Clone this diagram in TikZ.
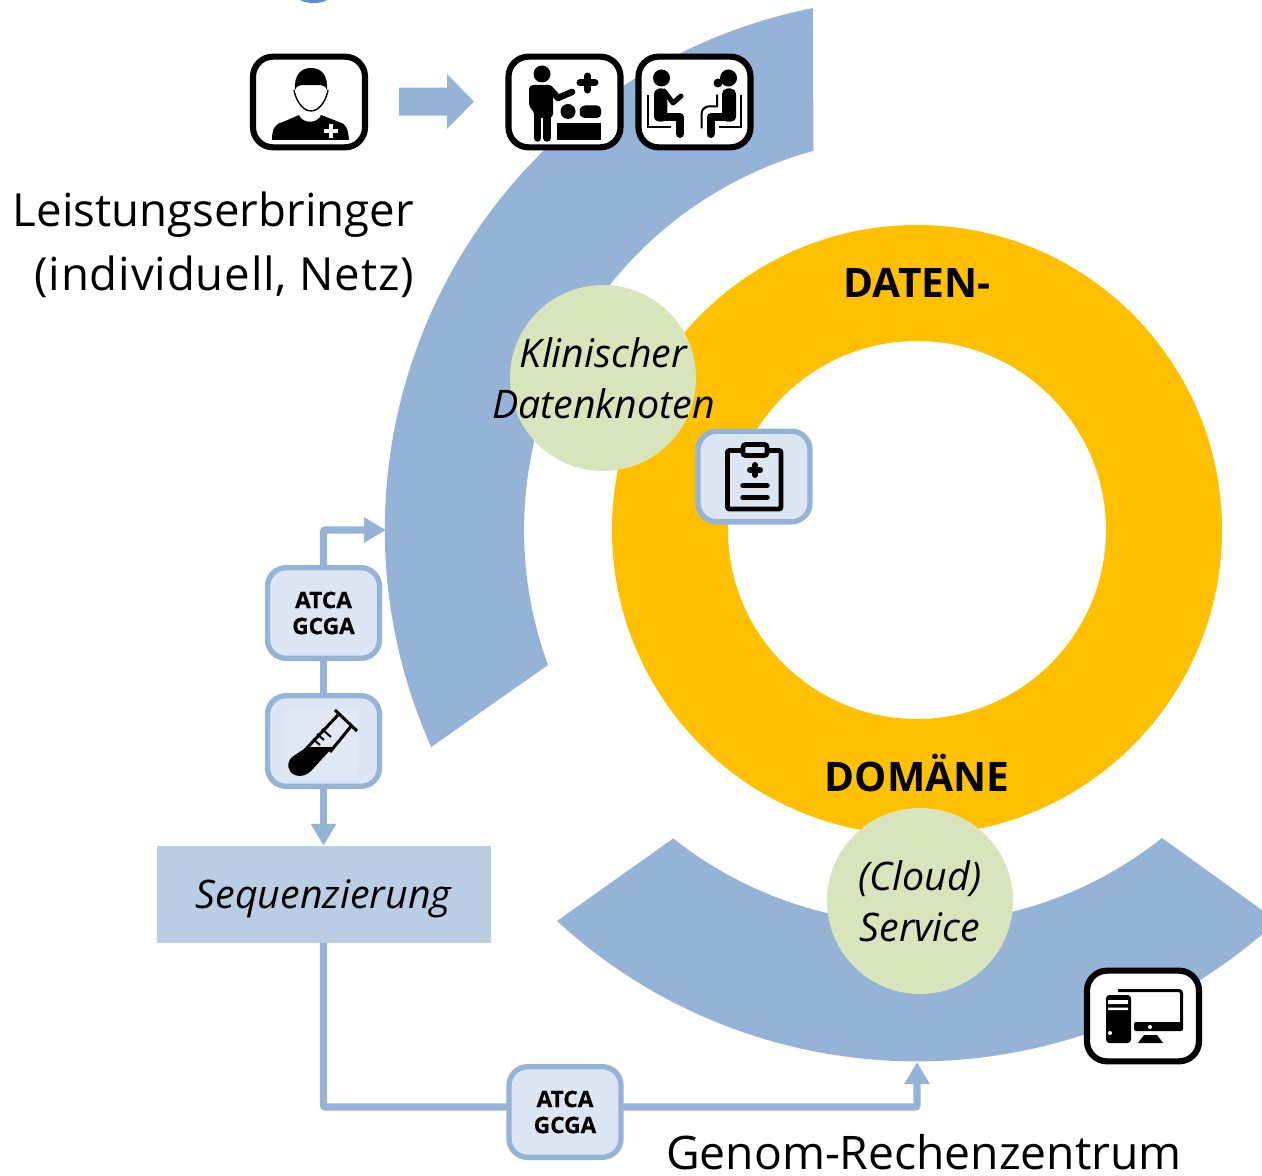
\documentclass[tikz,border=0pt]{standalone}
\usepackage{fontspec}
\setmainfont{Open Sans}
\usetikzlibrary{arrows.meta}
\definecolor{bluearc}{HTML}{95B3D7}
\definecolor{paleblue}{HTML}{DCE6F2}
\definecolor{seqblue}{HTML}{B9CDE5}
\definecolor{gold}{HTML}{FFC000}
\definecolor{palegreen}{HTML}{D7E4BC}
\definecolor{fragblue}{HTML}{5B8DC9}
\tikzset{
  iconbox/.style={draw=black,fill=white,line width=4.6pt,rounded corners=15pt,minimum width=84pt,minimum height=68pt,inner sep=0pt,outer sep=0pt},
  palebox/.style={draw=bluearc,fill=paleblue,line width=4pt,rounded corners=14pt,minimum width=84pt,minimum height=68pt,inner sep=0pt,outer sep=0pt,align=center,font=\fontsize{17}{19.5}\selectfont\bfseries\addfontfeature{FakeBold=0.6}},
  greencirc/.style={circle,fill=palegreen,minimum size=139.5pt,inner sep=0pt},
  greentext/.style={inner sep=0pt,align=center,font=\fontsize{29.5}{38.2}\selectfont\itshape},
  flow/.style={draw=bluearc,line width=5.5pt,rounded corners=1.5pt},
  flowtip/.style={flow,-{Triangle[length=16.5pt,width=18pt]}},
  big/.style={font=\fontsize{34.2}{47.5}\selectfont,inner sep=0pt},
  head/.style={font=\fontsize{30.5}{36}\selectfont\bfseries,inner sep=0pt,anchor=base},
  thick px/.style={line width=#1*0.75pt},
}
\begin{document}
\begin{tikzpicture}[x=0.75pt,y=-0.75pt]
\useasboundingbox (0,0) rectangle (1262,1176);
\clip (0,0) rectangle (1262,1176);
% top fragment
\fill[fragblue] (300,0) .. controls (306,4) and (321,4) .. (327,0) -- cycle;
% blue arcs
\fill[bluearc] (813,8) arc[start angle=258.75,end angle=155.9,radius=532] -- (548,665) arc[start angle=159.9,end angle=254.7,radius=393] -- cycle;
\fill[bluearc] (557,921) arc[start angle=132.6,end angle=47.4,radius=532] -- (1162,838) arc[start angle=51.5,end angle=128.4,radius=393] -- cycle;
% gold ring
\fill[gold,even odd rule] (917,530) circle[radius=305] (917,530) circle[radius=189];
% green circles
\node[greencirc] (klin) at (603,378) {};
\node[greentext] (klintext) at (603.5,378.5) {Klinischer\\Datenknoten};
\node[greencirc] (cloud) at (920,901) {};
\node[greentext] (cloudtext) at (920,901.5) {(Cloud)\\Service};
% headings
\node[head] (daten) at (917,297.5) {DATEN-};
\node[head] (domaene) at (917,791) {DOMÄNE};
% big labels
\node[big,align=right,anchor=north east] (leist) at (414,192) {Leistungserbringer\\\addfontfeature{LetterSpace=1.8}(individuell, Netz)};
\node[big,font=\fontsize{34.7}{47.5}\selectfont] (genom) at (924,1152) {Genom-Rechenzentrum};
% sequencing box
\node[fill=seqblue,minimum width=251pt,minimum height=73pt,inner sep=0pt,outer sep=0pt] (seq) at (324,894.5) {};
\node[inner sep=0pt,font=\fontsize{29.5}{32}\selectfont\itshape] (seqtext) at (323.5,899) {Sequenzierung};
% pale boxes
\node[palebox] (atcaA) at (323.5,613) {ATCA\\GCGA};
\node[palebox] (tube) at (323.5,741) {};
\node[palebox] (atcaB) at (565,1112) {ATCA\\GCGA};
\node[palebox] (clip) at (754,476.5) {};
% connectors
\coordinate (arcleft) at (386,530);
\coordinate (arcbottom) at (917,1062);
\coordinate (lowL) at (508,1107);
\coordinate (lowR) at (622,1107);
\draw[flowtip] (atcaA.north) |- (arcleft);
\draw[flow] (atcaA.south) -- (tube.north);
\draw[flowtip] (tube.south) -- (seq.north -| tube.south);
\draw[flow] (seq.south -| tube.south) |- (lowL);
\draw[flowtip] (lowR) -| (arcbottom);
% block arrow
\fill[bluearc] (399,87.6) -- (447,87.6) -- (447,74) -- (474,101.6) -- (447,129) -- (447,115.6) -- (399,115.6) -- cycle;
% icon boxes
\node[iconbox] (doc) at (309,102) {};
\node[iconbox] (exam) at (564.5,102) {};
\node[iconbox] (talk) at (694.5,102) {};
\node[iconbox] (comp) at (1143,1016) {};
% doctor icon
\fill[black] (295,90) .. controls (294,76) and (300,68) .. (311,68) .. controls (322,68) and (328,76) .. (327,90) .. controls (324,83) and (320,86) .. (311,85) .. controls (302,86) and (298,83) .. (295,90) -- cycle;
\draw[black,thick px=1.4] (294,90) .. controls (295,97) and (301,111) .. (311,111) .. controls (321,111) and (327,97) .. (328,90);
\fill[black] (272,140) .. controls (272,130) and (274,124) .. (283,122) -- (299,115) .. controls (302,124) and (318,124) .. (321,115) -- (339,122) .. controls (347,124) and (348,130) .. (349,140) -- cycle;
\draw[white,thick px=3.8] (331,124) -- (331,138) (324,131) -- (338,131);
% examination icon
\fill[black] (542,74) circle[radius=8.5];
\fill[black,rounded corners=3pt] (529,85) -- (553,85) -- (553,118) -- (534,118) -- (534,110) -- (529,108) -- cycle;
\draw[black,thick px=6.5,line cap=round,line join=round] (550,89) -- (558,98) -- (572,92);
\draw[black,thick px=7.5,line cap=round] (537.5,112) -- (537.5,138) (547,112) -- (547,138);
\draw[black,thick px=7,line cap=round] (587.5,76) -- (587.5,90) (580,83) -- (595,83);
\fill[black] (568,111.5) circle[radius=7.5];
\fill[black,rounded corners=3pt] (601,105.5) -- (581,105.5) -- (579,112) -- (581,118) -- (601,118) -- cycle;
\fill[black] (557,123.5) rectangle (601,140);
% consultation icon
\fill[black] (661.5,78) circle[radius=8.5];
\fill[black,rounded corners=4pt] (654,88.5) -- (667,88.5) -- (667.6,121.7) -- (654,121.7) -- cycle;
\draw[black,thick px=5,line cap=round,line join=round] (664,91) -- (673,103) -- (681,96);
\draw[black,thick px=8,line cap=round,line join=round] (658,117) -- (680,117) -- (680,134);
\draw[black,thick px=2] (648,94.7) -- (648,127) -- (671,127);
\fill[black] (728.5,78) circle[radius=8.5];
\fill[black] (718,83) circle[radius=4.5];
\fill[black,rounded corners=4pt] (722,88.5) -- (736,88.5) -- (736,121.7) -- (722,121.7) -- cycle;
\draw[black,thick px=8,line cap=round,line join=round] (732,117) -- (710.5,117) -- (710.5,134);
\draw[black,thick px=2] (741,94.7) -- (741,127) -- (719,127);
\draw[black,thick px=2] (717,94.7) -- (717,106.5) -- (708,106.5) .. controls (703.5,107.5) and (701.5,110) .. (701.5,115) -- (701.5,128.5);
% tube icon
\fill[paleblue!92!white] (287,708) rectangle (358,775);
\fill[black] (307,747) -- (333,747) -- (311,771) .. controls (304,778) and (294,777) .. (290,771) .. controls (287,766) and (288,761) .. (292,757) -- cycle;
\draw[black,thick px=3] (305,750) -- (338,715) (330,752) -- (352,725);
\draw[black,thick px=3] (335,710) -- (357,731);
\draw[black,thick px=2] (313,739) -- (320,745) (317,734) -- (324,740) (322,729) -- (331,737);
% clipboard icon
\draw[black,thick px=4.8,rounded corners=1.5pt] (727.5,450.5) rectangle (781,509);
\draw[black,fill=paleblue,thick px=4.8,rounded corners=2pt] (743,444.5) rectangle (767,455.5);
\draw[black,thick px=6,line cap=round] (755,465) -- (755,475) (750,470) -- (760,470);
\draw[black,thick px=5.5,line cap=round] (743,485.7) -- (767,485.7) (743,497.3) -- (767,497.3);
% computer icon
\fill[black,rounded corners=2.5pt] (1106,995) rectangle (1131,1043);
\fill[white] (1108,1000) rectangle (1128,1004) (1108,1007.5) rectangle (1128,1010);
\fill[white] (1110,1033) circle[radius=2];
\draw[black,thick px=3,rounded corners=2pt] (1118,990.5) -- (1181.5,990.5) -- (1181.5,1025);
\fill[black,rounded corners=1.5pt] (1134,1022) -- (1183,1022) -- (1183,1031) -- (1134,1031) -- cycle;
\fill[white] (1150,1027) circle[radius=2];
\fill[black] (1144,1035) -- (1157,1035) -- (1163,1043) -- (1138,1043) -- cycle;
\end{tikzpicture}
\end{document}
